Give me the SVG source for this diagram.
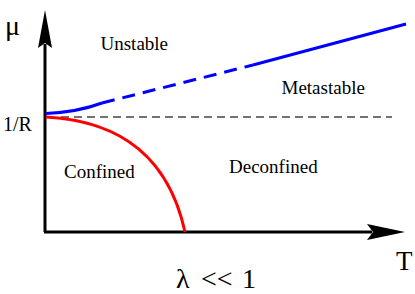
<svg xmlns="http://www.w3.org/2000/svg" width="415" height="294" viewBox="0 0 415 294">
<style>
.lbl{font-family:"Liberation Serif","Times New Roman",serif;fill:#000}
.axis{stroke:#000;stroke-width:3;fill:none}
.head{fill:#000;stroke:none}
</style>
<rect width="415" height="294" fill="#fff"/>
<g id="connectors">
<path id="yaxis" class="axis" d="M45,232 V44"/>
<path class="head" d="M45,10 L52,48 L45,43 L38,48 Z"/>
<path id="xaxis" class="axis" d="M44,232 H372"/>
<path class="head" d="M405,232 L367,224 L373,232 L367,240 Z"/>
<path id="ref" d="M61,117 H392" stroke="#444" stroke-width="1.5" stroke-dasharray="8,5" fill="none"/>
<path id="blue1" d="M46,113.5 Q78,112 102,103" stroke="#0000ff" stroke-width="3" fill="none"/>
<path id="blue2" d="M102,103 L253,65" stroke="#0000ff" stroke-width="3" fill="none" stroke-dasharray="13,8"/>
<path id="blue3" d="M253,65 L406,24" stroke="#0000ff" stroke-width="3" fill="none"/>
<path id="red" d="M46,117 C100,120 165,140 185,232" stroke="#ff0000" stroke-width="3" fill="none"/>
</g>
<g id="mu"><text class="lbl" x="5" y="35" font-size="28">μ</text></g>
<g id="oneR"><text class="lbl" x="3" y="131" font-size="20">1/R</text></g>
<g id="unstable"><text class="lbl" x="100.5" y="50" font-size="19">Unstable</text></g>
<g id="metastable"><text class="lbl" x="281.5" y="94" font-size="19">Metastable</text></g>
<g id="confined"><text class="lbl" x="64" y="178" font-size="19">Confined</text></g>
<g id="deconfined"><text class="lbl" x="229" y="173" font-size="19">Deconfined</text></g>
<g id="T"><text class="lbl" x="396" y="270" font-size="27">T</text></g>
<g id="lambda"><text class="lbl" y="288" font-size="28"><tspan x="176">λ</tspan><tspan x="201">&lt;&lt;</tspan><tspan x="242">1</tspan></text></g>
</svg>
